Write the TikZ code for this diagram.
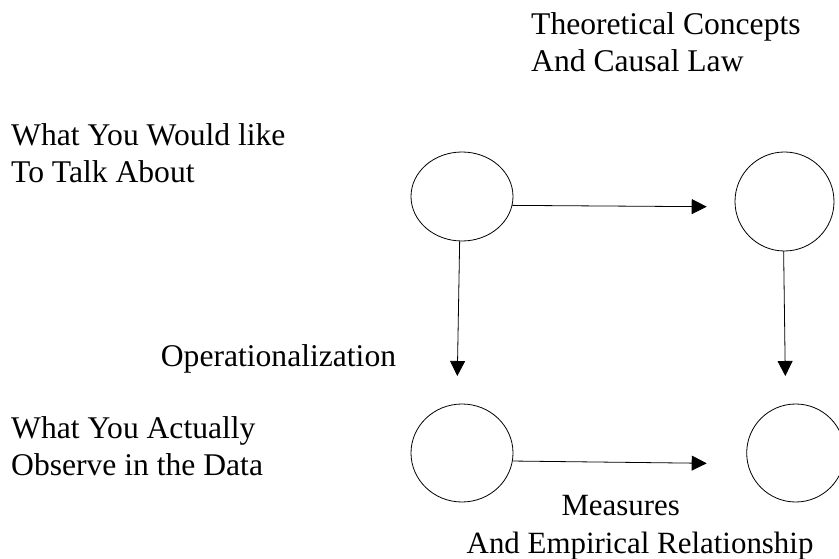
\documentclass[tikz,border=0pt]{standalone}
\usepackage{fontspec}
\setmainfont{Liberation Serif}
\usetikzlibrary{shapes.geometric,arrows.meta}
\begin{document}
\begin{tikzpicture}[x=1bp,y=-1bp,
  lbl/.style={inner sep=0pt,anchor=base west,align=left,font=\fontsize{31.6bp}{37bp}\selectfont},
  oval/.style={draw,ellipse,inner sep=0pt,line width=0.8bp},
  arr/.style={line width=0.8bp,-{Triangle[length=15bp,width=15bp]}}]
\useasboundingbox (0,0) rectangle (839,559);
\node[lbl] (theo) at (531,71.7) {Theoretical Concepts\\And Causal Law};
\node[lbl] (talk) at (11,182.3) {What You Would like\\To Talk About};
\node[lbl] (oper) at (160.7,366.7) {Operationalization};
\node[lbl] (obs) at (11,475) {What You Actually\\Observe in the Data};
\node[lbl,font=\fontsize{30.9bp}{38bp}\selectfont] (meas) at (466.5,553) {\hspace*{94.8bp}Measures\\And Empirical Relationship};
\node[oval,minimum width=102bp,minimum height=89bp] (tl) at (462,196.5) {};
\node[oval,minimum width=99bp,minimum height=99bp] (tr) at (784.5,201.5) {};
\node[oval,minimum width=102bp,minimum height=98bp] (bl) at (462,453) {};
\node[oval,minimum width=98bp,minimum height=98bp] (br) at (795.7,453) {};
\coordinate (t1) at (706.7,206.7);
\coordinate (t2) at (706.7,463.3);
\coordinate (t3) at (457.3,376);
\coordinate (t4) at (785.3,376);
\draw[arr] (tl.-10) -- (t1);
\draw[arr] (bl.-9) -- (t2);
\draw[arr] (tl.-93) -- (t3);
\draw[arr] (tr.-91) -- (t4);
\end{tikzpicture}
\end{document}
